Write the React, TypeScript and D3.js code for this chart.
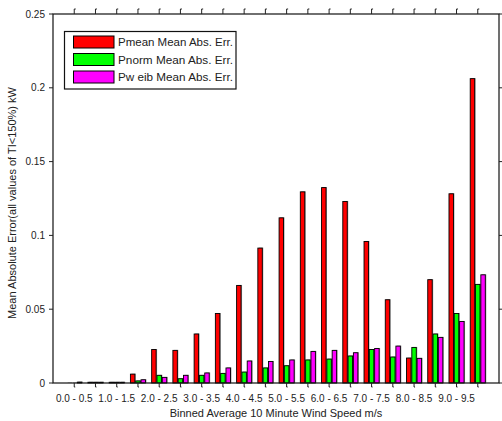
import React from "react";
import * as d3 from "d3";

// Wind speed bins (0.5 m/s wide)
const bins: string[] = [
  "0.0 - 0.5", "0.5 - 1.0", "1.0 - 1.5", "1.5 - 2.0", "2.0 - 2.5",
  "2.5 - 3.0", "3.0 - 3.5", "3.5 - 4.0", "4.0 - 4.5", "4.5 - 5.0",
  "5.0 - 5.5", "5.5 - 6.0", "6.0 - 6.5", "6.5 - 7.0", "7.0 - 7.5",
  "7.5 - 8.0", "8.0 - 8.5", "8.5 - 9.0", "9.0 - 9.5", "9.5 - 10.0",
];

const pmean: number[] = [
  0, 0.0005, 0.0005, 0.006, 0.0227, 0.0221, 0.0332, 0.0471, 0.0661, 0.0914,
  0.1119, 0.1295, 0.1324, 0.123, 0.0959, 0.0564, 0.0169, 0.07, 0.1282, 0.2062,
];
const pnorm: number[] = [
  0, 0.0005, 0.0005, 0.0014, 0.0052, 0.0029, 0.0052, 0.0065, 0.0074, 0.0102,
  0.0117, 0.0156, 0.0162, 0.0183, 0.0227, 0.0176, 0.0241, 0.0332, 0.0471, 0.0668,
];
const pweib: number[] = [
  0.0006, 0.0005, 0.0005, 0.0022, 0.0038, 0.0052, 0.0068, 0.0102, 0.0149, 0.0146,
  0.0156, 0.0214, 0.0221, 0.0205, 0.0234, 0.025, 0.0167, 0.0309, 0.0417, 0.0733,
];

const seriesNames: string[] = [
  "Pmean Mean Abs. Err.",
  "Pnorm Mean Abs. Err.",
  "Pw eib Mean Abs. Err.",
];
const seriesColors: string[] = ["#ff0000", "#00ff00", "#ff00ff"];
const yTicks: number[] = [0, 0.05, 0.1, 0.15, 0.2, 0.25];
const yTickLabels: string[] = ["0", "0.05", "0.1", "0.15", "0.2", "0.25"];

const W = 502;
const H = 421;
const left = 53;
const right = 499;
const top = 14;
const bottom = 383;
const FONT = "Arial, 'Liberation Sans', Helvetica, sans-serif";

export default function App() {
  const series = [pmean, pnorm, pweib];
  const x = d3.scaleLinear().domain([0, bins.length + 1]).range([left, right]);
  const y = d3.scaleLinear().domain([0, 0.25]).range([bottom, top]);
  const offset = 0.25; // group offset, in bin units
  const barW = x(0.21) - x(0);
  const tickPos = bins.map((_, i) => x(i + 1));

  return (
    <svg
      width={W}
      height={H}
      style={{ position: "absolute", left: 0, top: 0, background: "#fff" }}
      fontFamily={FONT}
    >
      <rect x={0} y={0} width={W} height={H} fill="#fff" />

      {/* bars */}
      {series.map((vals, s) =>
        vals.map((v, i) => {
          const cx = x(i + 1 + (s - 1) * offset);
          const y0 = y(v);
          const h = Math.max(bottom - y0, 0);
          return (
            <g key={`b${s}-${i}`}>
              <rect
                x={cx - barW / 2 + 1}
                y={y0 - 0.5}
                width={barW}
                height={h + 0.5}
                fill="#9a9a9a"
              />
              <rect
                x={cx - barW / 2}
                y={y0}
                width={barW}
                height={h}
                fill={seriesColors[s]}
                stroke="#000"
                strokeWidth={0.9}
              />
            </g>
          );
        })
      )}

      {/* axes box */}
      <rect
        x={left}
        y={top}
        width={right - left}
        height={bottom - top}
        fill="none"
        stroke="#111"
        strokeWidth={1.2}
      />

      {/* x ticks, bottom and top */}
      {tickPos.map((tx, i) => (
        <g key={`xt${i}`} stroke="#222" strokeWidth={1} fill="none">
          <path d={`M${tx},${bottom} L${tx},${bottom + 4} M${tx},${bottom + 4} l1,0`} />
          <path d={`M${tx},${top} L${tx},${top - 5} M${tx},${top - 5} l1.5,0`} />
        </g>
      ))}

      {/* x tick labels (every other bin) */}
      {bins.map((b, i) =>
        i % 2 === 0 ? (
          <text
            key={`xl${i}`}
            x={tickPos[i]}
            y={402}
            textAnchor="middle"
            fontSize={10}
            fill="#222"
          >
            {b}
          </text>
        ) : null
      )}

      {/* y ticks, left and right */}
      {yTicks.map((t, i) => (
        <g key={`yt${i}`}>
          <line x1={left - 4} x2={left} y1={y(t)} y2={y(t)} stroke="#222" strokeWidth={1} />
          <line x1={right} x2={right + 4} y1={y(t)} y2={y(t)} stroke="#222" strokeWidth={1} />
          <text
            x={45}
            y={y(t) + 3.5}
            textAnchor="end"
            fontSize={10}
            fill="#222"
          >
            {yTickLabels[i]}
          </text>
        </g>
      ))}

      {/* axis titles */}
      <text x={276} y={417} textAnchor="middle" fontSize={11} fill="#222">
        Binned Average 10 Minute Wind Speed m/s
      </text>
      <text
        transform={`translate(15.5, 203) rotate(-90)`}
        textAnchor="middle"
        fontSize={11}
        fill="#222"
      >
        Mean Absolute Error(all values of TI&lt;150%) kW
      </text>

      {/* legend */}
      <g>
        <rect x={64.5} y={31.5} width={171.5} height={57.5} fill="#fff" stroke="#111" strokeWidth={1.2} />
        {seriesNames.map((name, i) => {
          const ry = 36 + i * 17.5;
          return (
            <g key={`lg${i}`}>
              <rect
                x={73.5}
                y={ry}
                width={40.5}
                height={12}
                fill={seriesColors[i]}
                stroke="#000"
                strokeWidth={1}
              />
              <text x={118} y={ry + 10} fontSize={11} fill="#222" textLength={115} lengthAdjust="spacingAndGlyphs">
                {name}
              </text>
            </g>
          );
        })}
      </g>
    </svg>
  );
}
